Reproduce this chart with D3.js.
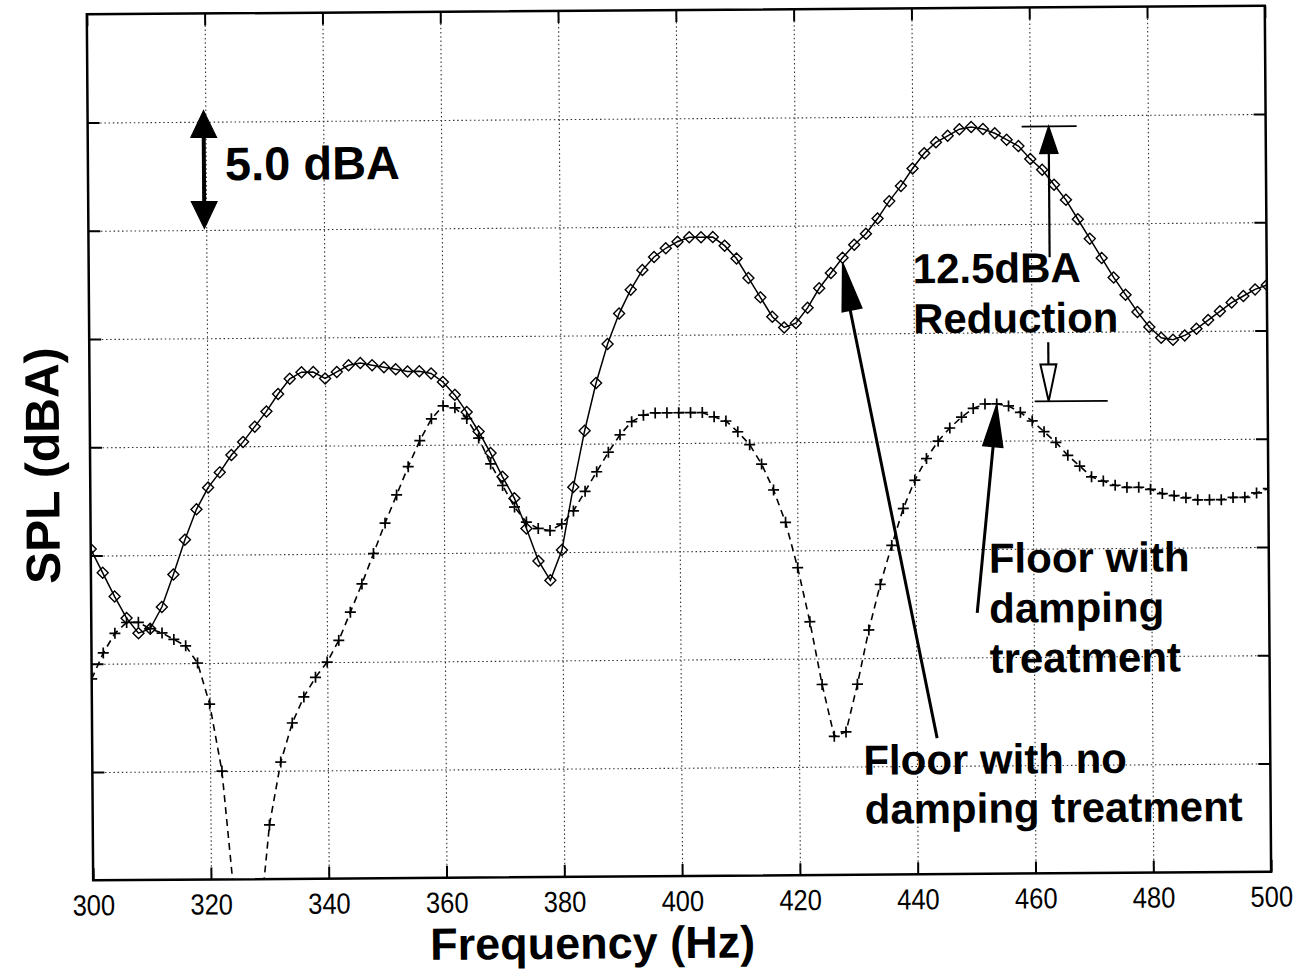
<!DOCTYPE html>
<html>
<head>
<meta charset="utf-8">
<script src="https://cdn.jsdelivr.net/npm/d3@7"></script>
<style>
    body { margin: 0; background: #fff; }
    svg  { display: block; font-family: "Liberation Sans", Arial, Helvetica, sans-serif; }
    .grid line   { stroke: #333; stroke-width: 1.1; stroke-dasharray: 1.5,2.7; }
    .grid .domain, .frame .domain, .labels .domain { display: none; }
    .frame line  { stroke: #000; stroke-width: 2; }
    .note        { font-weight: bold; fill: #000; }
</style>
</head>
<body>
<svg width="1295" height="974"></svg>
<script>
// frequency samples (Hz)
const freqs = [
    300, 302, 304, 306, 308, 310, 312, 314, 316, 318,
    320, 322, 324, 326, 328, 330, 332, 334, 336, 338,
    340, 342, 344, 346, 348, 350, 352, 354, 356, 358,
    360, 362, 364, 366, 368, 370, 372, 374, 376, 378,
    380, 382, 384, 386, 388, 390, 392, 394, 396, 398,
    400, 402, 404, 406, 408, 410, 412, 414, 416, 418,
    420, 422, 424, 426, 428, 430, 432, 434, 436, 438,
    440, 442, 444, 446, 448, 450, 452, 454, 456, 458,
    460, 462, 464, 466, 468, 470, 472, 474, 476, 478,
    480, 482, 484, 486, 488, 490, 492, 494, 496, 498,
    500
];

// SPL, floor with no damping treatment (diamonds, solid)
const noDamping = [
    55.3, 54.2, 53.1, 52.1, 51.4, 51.6, 52.6, 54.1, 55.7, 57.1,
    58.1, 58.8, 59.6, 60.2, 60.9, 61.6, 62.4, 63.1, 63.4, 63.4,
    63.1, 63.4, 63.7, 63.8, 63.7, 63.6, 63.5, 63.4, 63.4, 63.3,
    62.9, 62.3, 61.5, 60.6, 59.6, 58.5, 57.5, 56.1, 54.6, 53.7,
    55.1, 58.0, 60.6, 62.8, 64.6, 66.0, 67.1, 68.0, 68.6, 69.0,
    69.3, 69.5, 69.5, 69.5, 69.1, 68.5, 67.6, 66.7, 65.8, 65.3,
    65.5, 66.2, 67.1, 67.8, 68.5, 69.1, 69.6, 70.3, 71.1, 71.8,
    72.6, 73.3, 73.8, 74.1, 74.4, 74.5, 74.4, 74.2, 73.9, 73.6,
    73.0, 72.5, 71.8, 71.1, 70.2, 69.3, 68.4, 67.5, 66.7, 65.9,
    65.2, 64.7, 64.6, 64.8, 65.1, 65.5, 65.9, 66.3, 66.6, 66.9,
    67.1
];

// SPL, floor with damping treatment (plus signs, dashed)
const withDamping = [
    49.3, 50.5, 51.4, 51.9, 51.9, 51.6, 51.4, 51.1, 50.8, 50.0,
    48.1, 45.0, 39.0, 33.0, 37.3, 42.5, 45.4, 47.2, 48.4, 49.3,
    50.0, 51.0, 52.3, 53.6, 55.0, 56.4, 57.7, 59.0, 60.2, 61.2,
    61.8, 61.7, 61.2, 60.3, 59.1, 58.1, 57.1, 56.4, 56.1, 56.0,
    56.3, 56.9, 57.8, 58.7, 59.6, 60.4, 61.0, 61.3, 61.4, 61.4,
    61.4, 61.4, 61.4, 61.2, 61.0, 60.5, 59.9, 59.0, 57.8, 56.3,
    54.2, 51.7, 48.8, 46.4, 46.6, 48.8, 51.3, 53.4, 55.2, 56.9,
    58.2, 59.2, 60.0, 60.6, 61.1, 61.5, 61.7, 61.7, 61.6, 61.3,
    60.9, 60.4, 59.9, 59.3, 58.8, 58.3, 58.1, 57.9, 57.8, 57.8,
    57.7, 57.5, 57.4, 57.3, 57.2, 57.2, 57.2, 57.3, 57.3, 57.5,
    57.7
];

const xTicks = [300, 320, 340, 360, 380, 400, 420, 440, 460, 480, 500];
const yTicks = [45, 50, 55, 60, 65, 70, 75];

const svg = d3.select("svg");
const plotL = 90, plotR = 1268, plotT = 10, plotB = 876;

// the scanned original is tilted a little
const root = svg.append("g").attr("transform", "rotate(-0.42,682,447)");

const x = d3.scaleLinear().domain([300, 500]).range([plotL, plotR]);
const y = d3.scaleLinear().domain([40, 80]).range([plotB, plotT]);

// dotted grid
root.append("g")
    .attr("class", "grid")
    .attr("transform", `translate(0,${plotB})`)
    .call(d3.axisBottom(x).tickValues(xTicks.slice(1, -1)).tickSize(-(plotB - plotT)).tickFormat(""));

root.append("g")
    .attr("class", "grid")
    .attr("transform", `translate(${plotL},0)`)
    .call(d3.axisLeft(y).tickValues(yTicks).tickSize(-(plotR - plotL)).tickFormat(""));

// data
root.append("clipPath").attr("id", "plot")
    .append("rect").attr("x", plotL).attr("y", plotT).attr("width", plotR - plotL).attr("height", plotB - plotT);

const plot = root.append("g").attr("clip-path", "url(#plot)");

const line = d3.line().x((d, i) => x(freqs[i])).y(d => y(d));

plot.append("path")
    .datum(withDamping)
    .attr("d", line)
    .attr("fill", "none")
    .attr("stroke", "#000")
    .attr("stroke-width", 1.6)
    .attr("stroke-dasharray", "7,5");

plot.append("path")
    .datum(noDamping)
    .attr("d", line)
    .attr("fill", "none")
    .attr("stroke", "#000")
    .attr("stroke-width", 1.5);

plot.append("g")
    .selectAll("path")
    .data(withDamping)
    .enter().append("path")
        .attr("transform", (d, i) => `translate(${x(freqs[i])},${y(d)})`)
        .attr("d", "M-5.5,0H5.5M0,-5.5V5.5")
        .attr("stroke", "#000")
        .attr("stroke-width", 1.7);

plot.append("g")
    .selectAll("path")
    .data(noDamping)
    .enter().append("path")
        .attr("transform", (d, i) => `translate(${x(freqs[i])},${y(d)})`)
        .attr("d", "M0,-5.5L5.5,0L0,5.5L-5.5,0Z")
        .attr("fill", "none")
        .attr("stroke", "#000")
        .attr("stroke-width", 1.4);

// frame with inward ticks
root.append("rect")
    .attr("x", plotL).attr("y", plotT)
    .attr("width", plotR - plotL).attr("height", plotB - plotT)
    .attr("fill", "none").attr("stroke", "#000").attr("stroke-width", 2.5);

root.append("g").attr("class", "frame").attr("transform", `translate(0,${plotB})`)
    .call(d3.axisBottom(x).tickValues(xTicks).tickSizeInner(-12).tickSizeOuter(0).tickFormat(""));
root.append("g").attr("class", "frame").attr("transform", `translate(0,${plotT})`)
    .call(d3.axisTop(x).tickValues(xTicks).tickSizeInner(-12).tickSizeOuter(0).tickFormat(""));
root.append("g").attr("class", "frame").attr("transform", `translate(${plotL},0)`)
    .call(d3.axisLeft(y).tickValues(yTicks).tickSizeInner(-12).tickSizeOuter(0).tickFormat(""));
root.append("g").attr("class", "frame").attr("transform", `translate(${plotR},0)`)
    .call(d3.axisRight(y).tickValues(yTicks).tickSizeInner(-12).tickSizeOuter(0).tickFormat(""));

// tick labels (narrow face in the original)
const labels = root.append("g").attr("class", "labels").attr("transform", `translate(0,${plotB})`)
    .call(d3.axisBottom(x).tickValues(xTicks).tickSize(0).tickFormat(d3.format("d")));
labels.selectAll("text")
    .attr("y", 35).attr("dy", null)
    .attr("font-size", 29)
    .attr("fill", "#000")
    .attr("transform", "scale(0.88,1)");

// axis titles
root.append("text").attr("class", "note")
    .attr("x", 589).attr("y", 958)
    .attr("text-anchor", "middle")
    .attr("font-size", 45)
    .text("Frequency (Hz)");

root.append("text").attr("class", "note")
    .attr("transform", "translate(59,461) rotate(-90)")
    .attr("text-anchor", "middle")
    .attr("font-size", 48)
    .text("SPL (dBA)");

// annotations
function head(x1, y1, x2, y2, len, half, fill, sw) {
    const a  = Math.atan2(y2 - y1, x2 - x1);
    const bx = x2 - len * Math.cos(a), by = y2 - len * Math.sin(a);
    const px = -Math.sin(a) * half,    py = Math.cos(a) * half;
    root.append("path")
        .attr("d", `M${x2},${y2}L${bx + px},${by + py}L${bx - px},${by - py}Z`)
        .attr("fill", fill)
        .attr("stroke", "#000")
        .attr("stroke-width", sw);
}

function stick(x1, y1, x2, y2, w) {
    root.append("line")
        .attr("x1", x1).attr("y1", y1).attr("x2", x2).attr("y2", y2)
        .attr("stroke", "#000").attr("stroke-width", w);
}

// 5.0 dBA scale arrow
stick(206, 125, 206, 205, 4);
head(206, 166, 206, 107, 27, 13, "#000", 1);
head(206, 166, 206, 225, 27, 13, "#000", 1);
root.append("text").attr("class", "note")
    .attr("x", 227).attr("y", 177)
    .attr("font-size", 47)
    .text("5.0 dBA");

// 12.5 dBA reduction bracket
const peakHi = y(d3.max(noDamping));
const peakLo = y(d3.max(withDamping));
stick(1024, peakHi, 1079, peakHi, 1.8);
stick(1035, peakLo, 1108, peakLo, 1.8);
stick(1051, 260, 1051, peakHi + 20, 2.2);
head(1051, 260, 1051, peakHi, 27, 9, "#000", 1.5);
stick(1049, 345, 1049, peakLo - 30, 2.2);
head(1049, 345, 1049, peakLo, 37, 8, "#fff", 2);

root.append("text").attr("class", "note")
    .attr("x", 914).attr("y", 285)
    .attr("font-size", 42)
    .text("12.5dBA");
root.append("text").attr("class", "note")
    .attr("x", 914).attr("y", 335)
    .attr("font-size", 42)
    .text("Reduction");

// pointer to the no-damping curve
stick(935, 740, 847, 290, 3);
head(935, 740, 844, 264, 48, 10, "#000", 1.5);
const t1 = root.append("text").attr("class", "note").attr("font-size", 42);
t1.append("tspan").attr("x", 861).attr("y", 776).text("Floor with no");
t1.append("tspan").attr("x", 862).attr("y", 825).text("damping treatment");

// pointer to the damped curve
stick(976, 615, 994, 440, 3);
head(976, 615, 997, 407, 42, 10, "#000", 1.5);
const t2 = root.append("text").attr("class", "note").attr("font-size", 42);
t2.append("tspan").attr("x", 988).attr("y", 575).text("Floor with");
t2.append("tspan").attr("x", 988).attr("y", 625).text("damping");
t2.append("tspan").attr("x", 988).attr("y", 675).text("treatment");
</script>
</body>
</html>
